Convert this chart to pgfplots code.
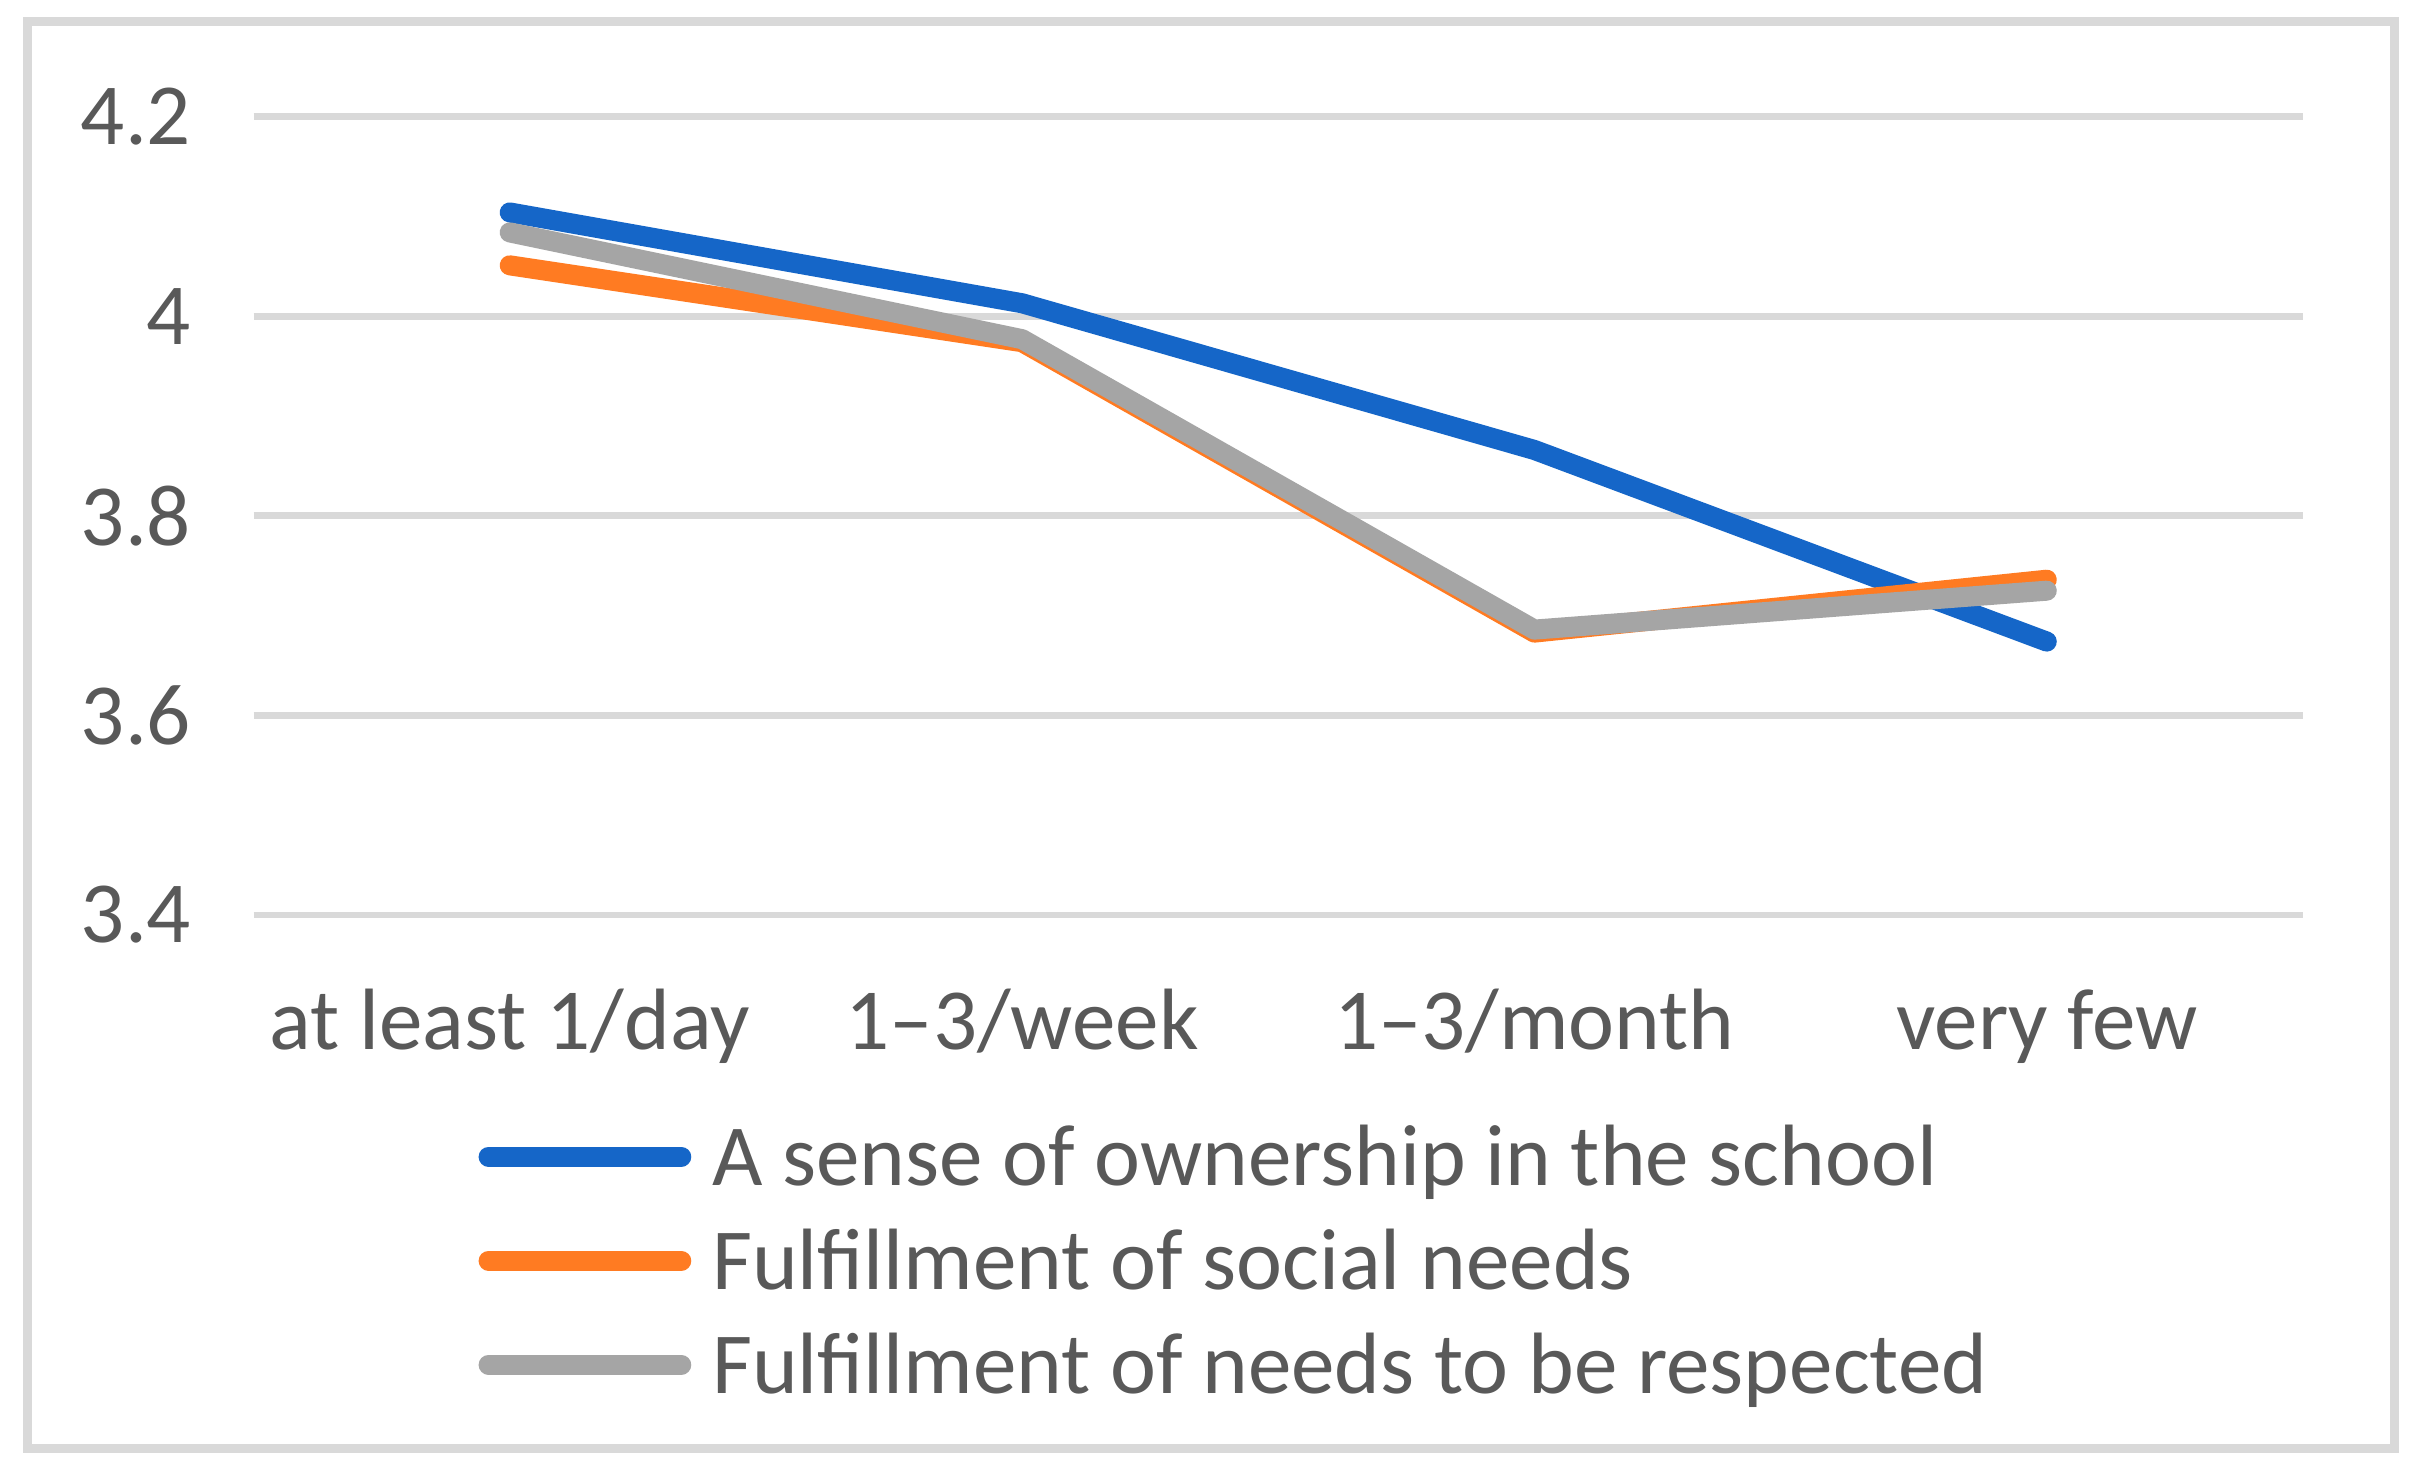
\documentclass[border=0pt]{standalone}
\usepackage{fontspec}
\setmainfont{Carlito}
\usepackage{pgfplots}
\pgfplotsset{compat=1.18}
\definecolor{sblue}{HTML}{1566C8}
\definecolor{sorange}{HTML}{FF7B22}
\definecolor{sgray}{HTML}{A5A5A5}
\definecolor{gridc}{HTML}{D9D9D9}
\definecolor{txt}{HTML}{595959}
\begin{document}
\begin{tikzpicture}[x=1pt,y=1pt]
\fill[white] (0,0) rectangle (313.6,190.8);
\draw[gridc, line width=1.17pt] (3.56,2.86) rectangle (310.68,188.02);
\begin{axis}[
  at={(32.9pt,72.08pt)}, anchor=south west,
  scale only axis, width=265.9pt, height=103.6pt,
  xmin=-0.5, xmax=3.5, ymin=3.4, ymax=4.2,
  xtick={0,1,2,3},
  xticklabels={at least 1/day, 1–3/week, 1–3/month, very few},
  ytick={3.4,3.6,3.8,4,4.2},
  axis line style={draw=none}, major tick length=0pt,
  ymajorgrids, grid style={gridc, line width=0.9pt},
  clip=false,
  tick label style={font=\fontsize{11.3}{13.5}\selectfont, text=txt},
  /pgf/number format/assume math mode=true,
  xticklabel style={anchor=base, yshift=-17.5pt, inner sep=0pt},
  yticklabel style={anchor=east, xshift=-7.9pt, inner sep=0pt},
  legend style={at={(0.1049,-0.2375)}, anchor=north west, draw=none, fill=none,
    inner sep=0pt, outer sep=0pt, row sep=0pt, column sep=1.4pt,
    font=\fontsize{11.3}{13.5}\selectfont, text=txt,
    nodes={inner sep=0pt, text height=10.45pt, text depth=3.05pt}},
  legend cell align=left,
  legend image code/.code={\path (0pt,0pt) (27.6pt,0pt); \draw[#1, line cap=round] (1.3pt,0pt) -- (26.3pt,0pt);},
]
\addplot[sblue, line width=2.6pt, line cap=round, line join=round] coordinates {(0,4.104) (1,4.013) (2,3.866) (3,3.674)};
\addlegendentry{A sense of ownership in the school}
\addplot[sorange, line width=2.6pt, line cap=round, line join=round] coordinates {(0,4.051) (1,3.974) (2,3.683) (3,3.736)};
\addlegendentry{Fulfillment of social needs}
\addplot[sgray, line width=2.6pt, line cap=round, line join=round] coordinates {(0,4.084) (1,3.977) (2,3.686) (3,3.725)};
\addlegendentry{Fulfillment of needs to be respected}
\end{axis}
\end{tikzpicture}
\end{document}
